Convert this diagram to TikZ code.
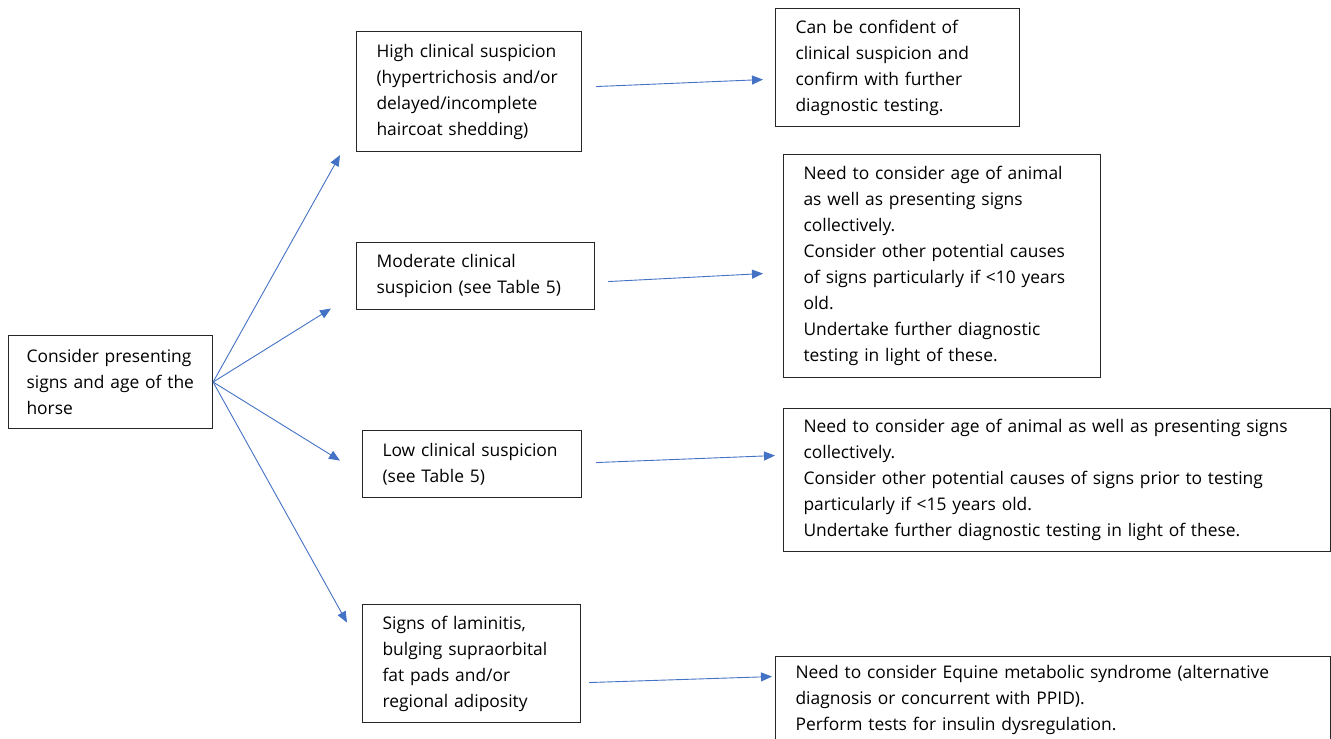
\documentclass[tikz,border=0pt]{standalone}
\usepackage{fontspec}
\setmainfont{Open Sans}
\usepackage{tikz}
\usetikzlibrary{arrows.meta,positioning,calc}
\definecolor{linkblue}{HTML}{4472C4}
\tikzset{
  box/.style={draw=black!85, line width=1.1pt, anchor=north west, align=left,
              inner xsep=20pt, inner ysep=0pt, font=\fontsize{17.4}{26}\selectfont},
  link/.style={draw=linkblue, line width=0.9pt, -{Triangle[length=11pt,width=9pt]}}
}

\begin{document}
\begin{tikzpicture}[x=1pt,y=-1pt]
    \useasboundingbox (0,0) rectangle (1331,739);

    \node[box, inner xsep=14pt, text width=176pt, minimum height=93pt] (start) at (8,335)
        {\hspace*{4pt}Consider presenting\\\hspace*{4pt}signs and age of the\\\hspace*{4pt}horse};

    \node[box, text width=185pt, minimum height=120pt] (high) at (356,31)
        {High clinical suspicion\\(hypertrichosis and/or\\delayed/incomplete\\haircoat shedding)};
    \node[box, text width=198pt, minimum height=67pt] (mod) at (356,242)
        {Moderate clinical\\suspicion (see Table 5)};
    \node[box, text width=179pt, minimum height=67pt] (low) at (362,430)
        {Low clinical suspicion\\(see Table 5)};
    \node[box, text width=178pt, minimum height=118pt] (lam) at (362,604)
        {Signs of laminitis,\\bulging supraorbital\\fat pads and/or\\regional adiposity};

    \node[box, text width=204pt, minimum height=118pt] (highres) at (775,8)
        {Can be confident of\\clinical suspicion and\\confirm with further\\diagnostic testing.};
    \node[box, text width=277pt, minimum height=223pt] (modres) at (783,154)
        {Need to consider age of animal\\as well as presenting signs\\collectively.\\Consider other potential causes\\of signs particularly if <10 years\\old.\\Undertake further diagnostic\\testing in light of these.};
    \node[box, text width=507pt, minimum height=143pt] (lowres) at (783,408)
        {Need to consider age of animal as well as presenting signs\\collectively.\\Consider other potential causes of signs prior to testing\\particularly if <15 years old.\\Undertake further diagnostic testing in light of these.};
    \node[box, text width=515pt, minimum height=86pt] (lamres) at (775,656)
        {Need to consider Equine metabolic syndrome (alternative\\diagnosis or concurrent with PPID).\\Perform tests for insulin dysregulation.};

    \draw[link] (start.east) -- ($(high.south west)+(-16,3)$);
    \draw[link] (start.east) -- ($(mod.west)+(-25,32.5)$);
    \draw[link] (start.east) -- ($(low.west)+(-22,-3.5)$);
    \draw[link] (start.east) -- ($(lam.west)+(-15,-41)$);

    \draw[link] ($(high.east)+(14,-5)$) -- ($(highres.west)+(-12,12)$);
    \draw[link] ($(mod.east)+(13,5.5)$) -- ($(modres.west)+(-20,7.5)$);
    \draw[link] ($(low.east)+(14,-1.5)$) -- ($(lowres.west)+(-8,-24.5)$);
    \draw[link] ($(lam.east)+(8,19)$) -- ($(lamres.west)+(-3,-23)$);
\end{tikzpicture}
\end{document}
